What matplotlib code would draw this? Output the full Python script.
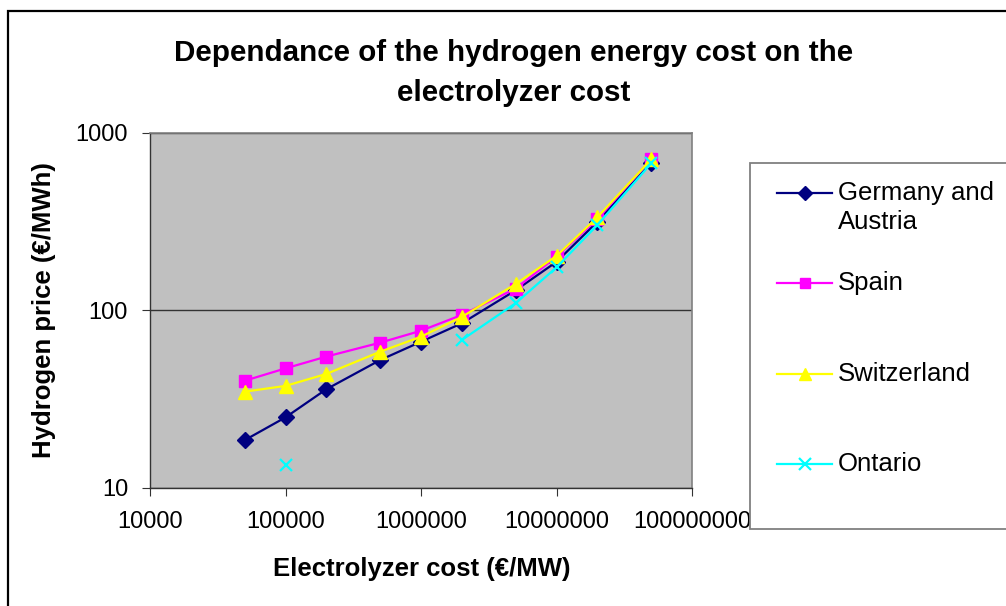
import numpy as np
import matplotlib
matplotlib.use("Agg")
import matplotlib.pyplot as plt
from matplotlib.lines import Line2D
from matplotlib.patches import Rectangle

plt.rcParams["font.family"] = ["Liberation Sans", "DejaVu Sans"]

# Data (electrolyzer cost in EUR/MW, hydrogen price in EUR/MWh)
cost = [5e4, 1e5, 2e5, 5e5, 1e6, 2e6, 5e6, 1e7, 2e7, 5e7]
germany = [18.6, 25.0, 36.0, 52.6, 66.7, 84.7, 130, 188, 316, 681]
spain = [40.2, 47.2, 55.0, 65.9, 76.9, 94.4, 133, 201, 327, 711]
switzerland = [34.9, 37.6, 43.9, 58.6, 71.2, 92.0, 141, 203, 335, 711]
ontario = [np.nan, 13.4, np.nan, np.nan, np.nan, 68.2, 110, 175, 303, 675]

series_names = ["Germany and\nAustria", "Spain", "Switzerland", "Ontario"]
series_values = [germany, spain, switzerland, ontario]
colors = ["#000080", "#FF00FF", "#FFFF00", "#00FFFF"]
markers = ["D", "s", "^", "x"]
msizes = [8, 8, 10, 9]

xticks = [1e4, 1e5, 1e6, 1e7, 1e8]
xtick_labels = ["10000", "100000", "1000000", "10000000", "100000000"]
yticks = [10, 100, 1000]
ytick_labels = ["10", "100", "1000"]

W, H = 1006, 606
fig = plt.figure(figsize=(W / 100, H / 100), dpi=100)
ax = fig.add_axes([150 / W, 1 - 488 / H, 542 / W, 355 / H])
ax.set_facecolor("#C0C0C0")

for vals, c, m, ms in zip(series_values, colors, markers, msizes):
    ax.plot(cost, vals, color=c, lw=1.6, marker=m, ms=ms, mew=1.6 if m == "x" else 1,
            mec=c, mfc=c, clip_on=False)

ax.set_xscale("log")
ax.set_yscale("log")
ax.set_xlim(1e4, 1e8)
ax.set_ylim(10, 1000)
ax.set_xticks(xticks)
ax.set_xticklabels(xtick_labels)
ax.set_yticks(yticks)
ax.set_yticklabels(ytick_labels)
ax.minorticks_off()
ax.tick_params(axis="both", direction="out", length=5.8, width=0.8, color="#333333",
               labelsize=17)
ax.tick_params(axis="x", pad=11)
ax.tick_params(axis="y", pad=10)
ax.grid(axis="y", which="major", color="#333333", lw=1)

for side in ["top", "right"]:
    ax.spines[side].set_color("#808080")
    ax.spines[side].set_linewidth(1.2)
for side in ["left", "bottom"]:
    ax.spines[side].set_color("#333333")
    ax.spines[side].set_linewidth(1.0)

ax.set_xlabel("Electrolyzer cost (€/MW)", fontsize=18.5, fontweight="bold", va="center")
ax.xaxis.set_label_coords(272 / 542, (488 - 569) / 355)
ax.set_ylabel("Hydrogen price (€/MWh)", fontsize=18.5, fontweight="bold", va="center")
ax.yaxis.set_label_coords((44 - 150) / 542, (488 - 310) / 355)

fig.text(514 / W, 1 - 73 / H,
         "Dependance of the hydrogen energy cost on the\nelectrolyzer cost",
         ha="center", va="center", fontsize=21.3, fontweight="bold", linespacing=1.52)

# outer chart frame
fig.patches.append(Rectangle((8 / W, -0.05), 1.1, 1 - 11 / H + 0.05,
                             transform=fig.transFigure, fill=False,
                             edgecolor="black", lw=1.6, zorder=0))

# legend box, drawn like the Excel one (partly cut off at the right edge)
fig.patches.append(Rectangle((750 / W, 1 - 529 / H), 0.3, (529 - 163) / H,
                             transform=fig.transFigure, facecolor="white",
                             edgecolor="#808080", lw=1.3, zorder=5))
entry_y = [193, 283, 374, 464]
for name, c, m, ms, y in zip(series_names, colors, markers, msizes, entry_y):
    yf = 1 - y / H
    fig.lines.append(Line2D([777 / W, 832 / W], [yf, yf], transform=fig.transFigure,
                            color=c, lw=1.6, zorder=6))
    fig.lines.append(Line2D([804.5 / W], [yf], transform=fig.transFigure, color=c,
                            marker=m, ms=ms * 0.9, mfc=c, mec=c,
                            mew=1.6 if m == "x" else 1, zorder=6))
    lines = name.split("\n")
    for k, line in enumerate(lines):
        fig.text(838 / W, 1 - (y + 29 * k) / H, line, ha="left", va="center",
                 fontsize=18.5, zorder=7)

fig.savefig("out.png", dpi=100)
